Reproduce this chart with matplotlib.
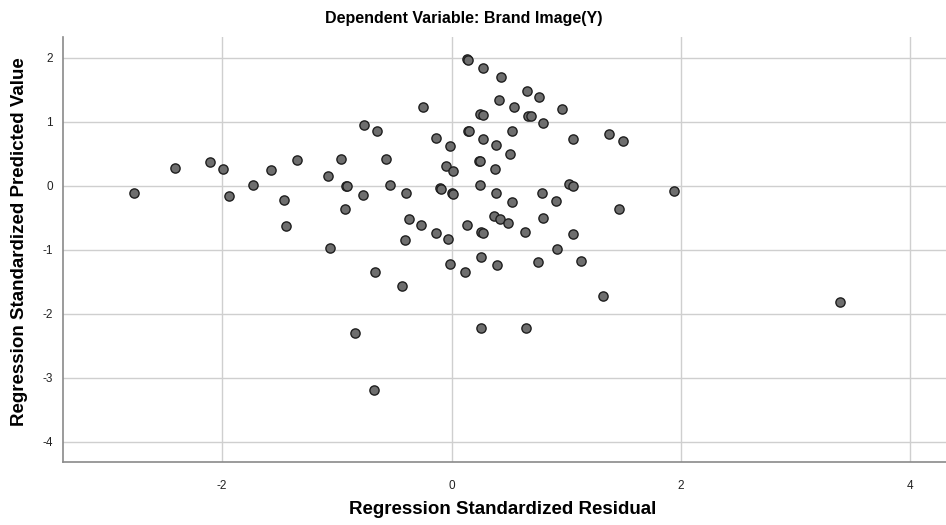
import numpy as np
import matplotlib
matplotlib.use('Agg')
import matplotlib.pyplot as plt

# 标准化残差 (x) 与 标准化预测值 (y)
resid = [-2.77, -2.41, -2.11, -1.99, -1.94, -1.73, -1.57, -1.46, -1.44, -1.35,
         -1.08, -0.96, -0.92, -0.91, -0.93, -1.06, -0.77, -0.76, -0.65, -0.57,
         -0.54, -0.40, -0.25, -0.14, -0.05, -0.01, 0.01, -0.10, -0.09, 0.00,
         0.01, 0.13, 0.14, 0.27, 0.43, 0.66, 0.76, 0.41, 0.54, 0.25,
         0.27, 0.67, 0.69, 0.80, 0.14, 0.15, 0.27, 0.53, 0.39, 0.51,
         0.24, 0.25, 0.38, 0.25, 0.39, 0.53, 0.79, 0.96, 1.06, 1.37,
         1.49, 1.02, 1.06, 0.91, 1.94, 1.46, -0.37, -0.27, -0.14, -0.03,
         -0.41, 0.13, 0.37, 0.42, 0.49, 0.26, 0.27, 0.64, 0.80, -0.01,
         0.12, 0.26, 0.40, 0.75, -0.67, -0.43, 1.06, 0.92, 1.13, 1.32,
         -0.84, 0.26, 0.65, -0.68, 3.39]
pred = [-0.12, 0.28, 0.37, 0.26, -0.16, 0.01, 0.24, -0.23, -0.63, 0.40,
        0.15, 0.41, 0.00, -0.01, -0.36, -0.98, -0.15, 0.95, 0.85, 0.41,
        0.01, -0.12, 1.22, 0.75, 0.30, 0.62, 0.23, -0.03, -0.05, -0.11,
        -0.13, 1.97, 1.96, 1.84, 1.69, 1.48, 1.38, 1.34, 1.22, 1.12,
        1.10, 1.09, 1.08, 0.97, 0.85, 0.86, 0.73, 0.85, 0.63, 0.50,
        0.39, 0.38, 0.26, 0.01, -0.11, -0.25, -0.12, 1.20, 0.73, 0.81,
        0.70, 0.03, 0.00, -0.24, -0.09, -0.36, -0.52, -0.61, -0.74, -0.83,
        -0.85, -0.61, -0.47, -0.52, -0.59, -0.73, -0.74, -0.72, -0.50, -1.22,
        -1.35, -1.11, -1.24, -1.20, -1.35, -1.57, -0.75, -0.99, -1.18, -1.73,
        -2.30, -2.22, -2.22, -3.19, -1.82]
x_ticks = [-2, 0, 2, 4]
y_ticks = [2, 1, 0, -1, -2, -3, -4]

plt.rcParams['font.family'] = ['Liberation Sans', 'DejaVu Sans']
plt.rcParams['axes.unicode_minus'] = False    # 负号用普通连字符

fig = plt.figure(figsize=(9.46, 5.25), dpi=100)
ax = fig.add_axes([0.0663, 0.1194, 0.9337, 0.8101])

ax.scatter(resid, pred, s=44, color='#6e6e6e', edgecolors='#1e1e1e',
           linewidths=1.0, zorder=3)  # 散点

ax.set_xlim(-3.39, 4.31)
ax.set_ylim(-4.32, 2.32)
ax.set_xticks(x_ticks)
ax.set_yticks(y_ticks)
ax.grid(True, color='#cfcfcf', linewidth=1.0, zorder=0)
ax.tick_params(length=0, labelsize=8.5, labelcolor='#222222')
ax.tick_params(axis='x', pad=13)
ax.tick_params(axis='y', pad=7)

# 只保留左边和下边的坐标轴
ax.spines['top'].set_visible(False)
ax.spines['right'].set_visible(False)
ax.spines['left'].set_color('#8a8a8a')
ax.spines['bottom'].set_color('#8a8a8a')
ax.spines['left'].set_linewidth(1.2)
ax.spines['bottom'].set_linewidth(1.2)

fig.text(464 / 946, 1 - 19 / 525, 'Dependent Variable: Brand Image(Y)',
         ha='center', va='center', fontsize=11.5, fontweight='bold')
fig.text(503 / 946, 1 - 510 / 525, 'Regression Standardized Residual',
         ha='center', va='center', fontsize=13.5, fontweight='bold')
fig.text(20 / 946, 1 - 242 / 525, 'Regression Standardized Predicted Value',
         ha='center', va='center', fontsize=13.5, fontweight='bold', rotation=90)

fig.savefig('out.png', dpi=100)
